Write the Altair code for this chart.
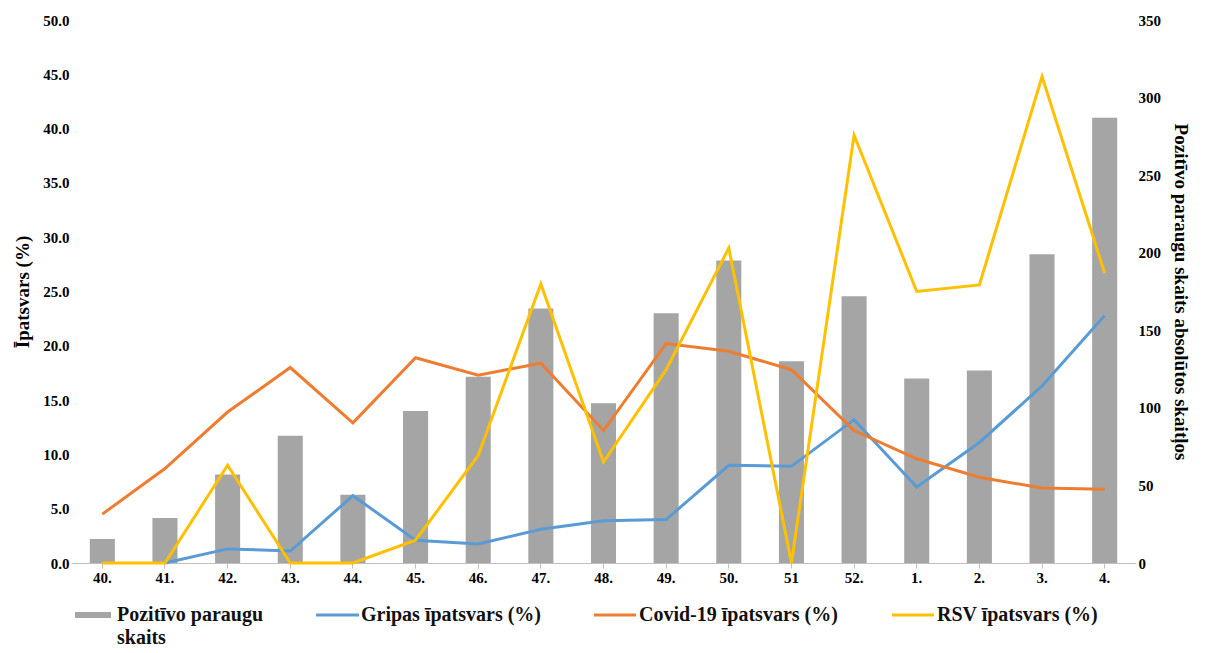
import altair as alt
import pandas as pd

weeks = ["40.", "41.", "42.", "43.", "44.", "45.", "46.", "47.", "48.", "49.",
         "50.", "51", "52.", "1.", "2.", "3.", "4."]
positives = [15.5, 29, 57, 82, 44, 98, 120, 164, 103, 161, 195, 130, 172, 119, 124, 199, 287]
gripas = [None, 0.0, 1.3, 1.1, 6.2, 2.1, 1.75, 3.1, 3.9, 4.0, 9.0, 8.9, 13.2, 7.0, 11.1, 16.3, 22.8]
covid = [4.5, 8.7, 13.9, 18.0, 12.9, 18.9, 17.3, 18.4, 12.2, 20.2, 19.5, 17.8, 12.2, 9.6, 7.9, 6.9, 6.8]
rsv = [0.0, 0.0, 9.0, 0.0, 0.0, 2.1, 9.9, 25.7, 9.3, 17.8, 29.0, 0.0, 39.4, 25.0, 25.6, 44.8, 26.7]

series = ["Gripas īpatsvars (%)", "Covid-19 īpatsvars (%)", "RSV īpatsvars (%)"]
colors = ["#5B9BD5", "#ED7D31", "#FFC000"]
FONT = "Liberation Serif"

bars_df = pd.DataFrame({"week": weeks, "pos": positives})
rows = []
for name, vals in zip(series, [gripas, covid, rsv]):
    for w, v in zip(weeks, vals):
        if v is not None:
            rows.append({"week": w, "series": name, "val": v})
lines_df = pd.DataFrame(rows)

W, H = 1065, 543
xenc = alt.X("week:N", sort=weeks, title=None,
             scale=alt.Scale(paddingInner=0.6, paddingOuter=0.3),
             axis=alt.Axis(labelAngle=0, labelFont=FONT, labelFontWeight="bold",
                           labelFontSize=15, labelColor="black", domainColor="#bfbfbf",
                           tickColor="#bfbfbf", ticks=True, tickSize=5, grid=False))

bars = alt.Chart(bars_df).mark_bar(color="#A5A5A5").encode(
    x=xenc,
    y=alt.Y("pos:Q", title="Pozitīvo paraugu skaits absolūtos skaitļos",
            scale=alt.Scale(domain=[0, 350]),
            axis=alt.Axis(orient="right", values=list(range(0, 351, 50)), domain=False,
                          ticks=False, grid=False, labelFont=FONT, labelFontWeight="bold",
                          labelFontSize=15, labelColor="black", titleFont=FONT,
                          titleFontSize=19, titleColor="black", titlePadding=10)),
)

lines = alt.Chart(lines_df).mark_line(strokeWidth=3).encode(
    x=alt.X("week:N", sort=weeks),
    y=alt.Y("val:Q", title="Īpatsvars (%)", scale=alt.Scale(domain=[0, 50]),
            axis=alt.Axis(orient="left", values=[i * 5 for i in range(11)], format=".1f",
                          domain=False, ticks=False, grid=False, labelFont=FONT,
                          labelFontWeight="bold", labelFontSize=15, labelColor="black",
                          titleFont=FONT, titleFontSize=19, titleColor="black",
                          titlePadding=10)),
    color=alt.Color("series:N", scale=alt.Scale(domain=series, range=colors), legend=None),
)

main = alt.layer(bars, lines).resolve_scale(y="independent").properties(width=W, height=H)

# manual legend
leg_df = pd.DataFrame({
    "label": ["Pozitīvo paraugu", "Gripas īpatsvars (%)", "Covid-19 īpatsvars (%)", "RSV īpatsvars (%)"],
    "x0": [4, 245, 523, 821], "x1": [40, 288, 565, 863], "tx": [46, 290, 568, 866],
    "kind": ["bar", "line", "line", "line"], "color": ["#A5A5A5"] + colors,
})
lx = alt.Scale(domain=[0, W])
base = alt.Chart(leg_df)
sym_bar = base.transform_filter("datum.kind == 'bar'").mark_rect().encode(
    x=alt.X("x0:Q", scale=lx, axis=None), x2="x1:Q",
    y=alt.value(7), y2=alt.value(13), color=alt.Color("color:N", scale=None))
sym_line = base.transform_filter("datum.kind == 'line'").mark_rule(strokeWidth=3).encode(
    x=alt.X("x0:Q", scale=lx, axis=None), x2="x1:Q",
    y=alt.value(10), color=alt.Color("color:N", scale=None))
txt = base.mark_text(align="left", baseline="middle", font=FONT, fontWeight="bold",
                     fontSize=20, color="#111").encode(
    x=alt.X("tx:Q", scale=lx, axis=None), y=alt.value(10), text="label:N")
txt2 = alt.Chart(pd.DataFrame({"t": ["skaits"], "x": [46]})).mark_text(
    align="left", baseline="middle", font=FONT, fontWeight="bold", fontSize=20,
    color="#111").encode(x=alt.X("x:Q", scale=lx, axis=None), y=alt.value(33), text="t:N")
legend = alt.layer(sym_bar, sym_line, txt, txt2).properties(width=W, height=36)

chart = alt.vconcat(main, legend, spacing=20).configure_view(stroke=None)
chart.save("out.html", embed_options={"renderer": "svg", "actions": False})
